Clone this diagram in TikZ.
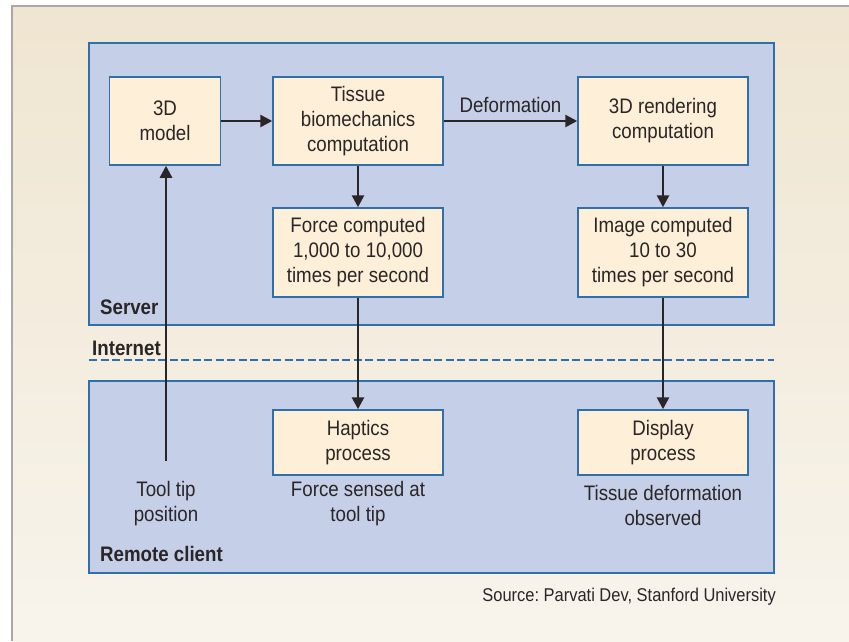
\documentclass[tikz,border=0pt]{standalone}
\usepackage{fontspec}
\setmainfont{Liberation Sans}[FakeStretch=0.89]
\usetikzlibrary{arrows.meta}
\frenchspacing
\definecolor{bgtop}{HTML}{EFE5D1}
\definecolor{bgbot}{HTML}{F8F4EC}
\definecolor{zone}{HTML}{C5CFE8}
\definecolor{edgeblue}{HTML}{2F6FAA}
\definecolor{boxfill}{HTML}{FEF0D8}
\definecolor{ink}{HTML}{2A2526}
\definecolor{frame}{HTML}{A8A8A8}
\tikzset{
  zonebox/.style={draw=edgeblue, fill=zone, line width=1.3pt, inner sep=0pt},
  procbox/.style={draw=edgeblue, fill=boxfill, line width=1.5pt, inner sep=0pt,
    align=center, text=ink, font=\fontsize{21}{25}\selectfont},
  plain/.style={text=ink, align=center, inner sep=0pt, font=\fontsize{21}{25}\selectfont},
  zonelabel/.style={text=ink, inner sep=0pt, anchor=west, font=\fontsize{21}{25}\selectfont\bfseries},
  flow/.style={draw=ink, line width=2.6pt, -{Triangle[length=12pt,width=12pt]}},
}
\begin{document}
\begin{tikzpicture}[x=1pt,y=-1pt]
\useasboundingbox (0,0) rectangle (849,641);
\fill[white] (0,0) rectangle (849,641);
\shade[top color=bgtop, bottom color=bgbot] (12,6) rectangle (849,641);
\draw[frame, line width=1.2pt] (12,641) -- (12,6) -- (849,6);
% zones
\node[zonebox, minimum width=685pt, minimum height=282pt] (server) at (431.5,184) {};
\node[zonebox, minimum width=685pt, minimum height=192pt] (client) at (431.5,477) {};
\coordinate (dl) at (89,360);
\coordinate (dr) at (774,360);
\draw[edgeblue, line width=2.8pt, dash pattern=on 8pt off 3.5pt] (dl) -- (dr);
% labels
\node[zonelabel] (lserver) at (100,307) {Server};
\node[zonelabel] (linternet) at (92,348) {Internet};
\node[zonelabel] (lclient) at (100,554) {Remote client};
% boxes
\node[procbox, minimum width=111pt, minimum height=88pt] (model) at (165,121) {3D\\model};
\node[procbox, minimum width=170pt, minimum height=88pt] (tissue) at (358,121) {Tissue\\biomechanics\\computation};
\node[procbox, minimum width=170pt, minimum height=88pt] (render) at (663,121) {3D rendering\\computation};
\node[procbox, minimum width=170pt, minimum height=89pt] (force) at (358,252.5) {Force computed\\1,000 to 10,000\\times per second};
\node[procbox, minimum width=170pt, minimum height=89pt] (image) at (663,252.5) {Image computed\\10 to 30\\times per second};
\node[procbox, minimum width=170pt, minimum height=65pt] (haptics) at (358,442.5) {Haptics\\process};
\node[procbox, minimum width=170pt, minimum height=65pt] (display) at (663,442.5) {Display\\process};
% free texts
\node[plain] (tooltip) at (166,503.5) {Tool tip\\position};
\node[plain] (sensed) at (358,503.5) {Force sensed at\\tool tip};
\node[plain] (observed) at (663,505.5) {Tissue deformation\\observed};
\node[text=ink, inner sep=0pt, anchor=east, font=\fontsize{18.5}{22}\selectfont] (source) at (776,597) {Source: Parvati Dev, Stanford University};
% connectors
\coordinate (tt) at (166,461);
\draw[flow] (tt) -- (tt |- model.south);
\draw[flow] (model) -- (tissue);
\draw[flow] (tissue) -- node[plain, above=7pt] (deflabel) {Deformation} (render);
\draw[flow] (tissue) -- (force);
\draw[flow] (render) -- (image);
\draw[flow] (force) -- (haptics);
\draw[flow] (image) -- (display);
\end{tikzpicture}
\end{document}
